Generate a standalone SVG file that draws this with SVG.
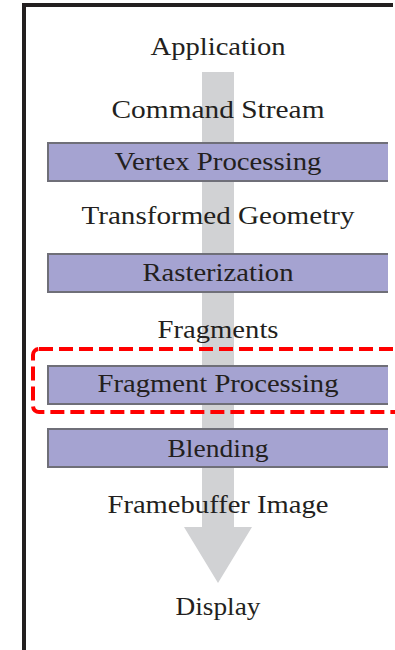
<svg xmlns="http://www.w3.org/2000/svg" width="395" height="650" viewBox="0 0 395 650">
<style>
.lbl{font-family:"Liberation Serif","DejaVu Serif",serif;font-size:26px;fill:#231f20;text-anchor:middle}
.bar{fill:#a5a3d1}
.edge{fill:none;stroke:#6f6f78;stroke-width:2}
</style>
<rect width="395" height="650" fill="#ffffff"/>
<g id="frame">
<path d="M24,650 V5 H393" fill="none" stroke="#231f20" stroke-width="4"/>
</g>
<g id="connectors">
<polygon points="202,72 234,72 234,527 252,527 218,583 184,527 202,527" fill="#d1d2d4"/>
</g>
<g id="application"><text class="lbl" x="218" y="55" textLength="135" lengthAdjust="spacingAndGlyphs">Application</text></g>
<g id="command-stream"><text class="lbl" x="218" y="118" textLength="213" lengthAdjust="spacingAndGlyphs">Command Stream</text></g>
<g id="vertex-processing">
<rect class="bar" x="48" y="143" width="340" height="38"/>
<path class="edge" d="M388,143 H48 V181 H388"/>
<text class="lbl" x="218" y="170" textLength="207" lengthAdjust="spacingAndGlyphs">Vertex Processing</text>
</g>
<g id="transformed-geometry"><text class="lbl" x="218" y="224" textLength="273" lengthAdjust="spacingAndGlyphs">Transformed Geometry</text></g>
<g id="rasterization">
<rect class="bar" x="48" y="254" width="340" height="38"/>
<path class="edge" d="M388,254 H48 V292 H388"/>
<text class="lbl" x="218" y="281" textLength="151" lengthAdjust="spacingAndGlyphs">Rasterization</text>
</g>
<g id="fragments"><text class="lbl" x="218" y="338" textLength="121" lengthAdjust="spacingAndGlyphs">Fragments</text></g>
<g id="fragment-processing">
<rect class="bar" x="48" y="366" width="340" height="38"/>
<path class="edge" d="M388,366 H48 V404 H388"/>
<text class="lbl" x="218" y="392" textLength="241" lengthAdjust="spacingAndGlyphs">Fragment Processing</text>
</g>
<g id="highlight">
<rect x="33" y="349" width="380" height="63" rx="6" ry="6" fill="none" stroke="#ff0000" stroke-width="4" stroke-dasharray="14,6"/>
</g>
<g id="blending">
<rect class="bar" x="48" y="429" width="340" height="38"/>
<path class="edge" d="M388,429 H48 V467 H388"/>
<text class="lbl" x="218" y="457" textLength="101" lengthAdjust="spacingAndGlyphs">Blending</text>
</g>
<g id="framebuffer-image"><text class="lbl" x="218" y="513" textLength="221" lengthAdjust="spacingAndGlyphs">Framebuffer Image</text></g>
<g id="display"><text class="lbl" x="218" y="615" textLength="85" lengthAdjust="spacingAndGlyphs">Display</text></g>
</svg>
